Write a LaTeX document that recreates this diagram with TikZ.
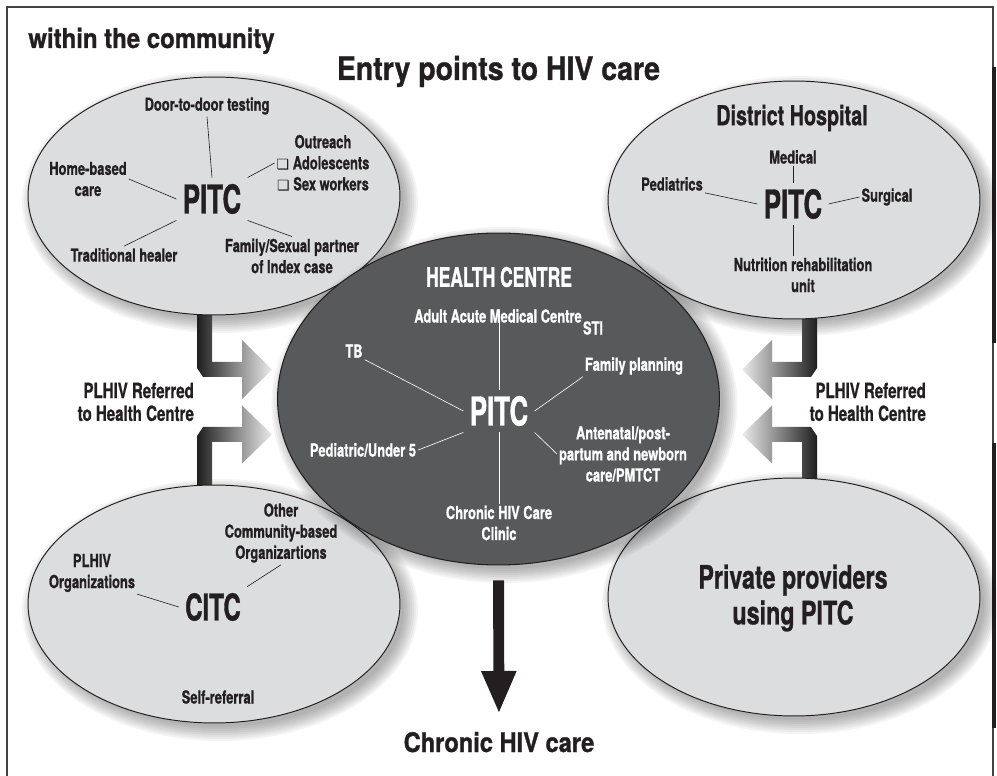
\documentclass[tikz,border=0pt]{standalone}
\usepackage{fontspec}
\setmainfont{TeX Gyre Heros}[FakeStretch=0.72, FakeBold=0.8]
\newfontfamily\headfont{TeX Gyre Heros}[FakeStretch=0.88, FakeBold=1]
\newfontfamily\capfont{TeX Gyre Heros}[FakeStretch=0.65, FakeBold=1]
\newfontfamily\boxfont{DejaVu Sans}
\usetikzlibrary{shapes.geometric,arrows.meta}
\definecolor{ink}{HTML}{231F20}
\definecolor{ovallight}{HTML}{DCDDDF}
\definecolor{ovaldark}{HTML}{58595B}
\newcommand\fsz[2]{\fontsize{#1}{#2}\selectfont\bfseries}
\newcommand\chk{{\boxfont\fontsize{8}{10}\selectfont ❑}}
% soft shadow under an oval: centre x, centre y, x radius, y radius
\newcommand\ovalshadow[4]{%
  \foreach \k in {0,...,7}
    \fill[black,opacity=.045] (#1+6,#2+6) ellipse [x radius=#3+12-2*\k, y radius=#4+12-2*\k];}
\tikzset{
  lightoval/.style={ellipse, draw=ink, line width=.55pt, fill=ovallight, inner sep=0pt,
    minimum width=7.44cm, minimum height=4.76cm},
  darkoval/.style={ellipse, draw=ink, line width=.6pt, fill=ovaldark, inner sep=0pt,
    minimum width=8.84cm, minimum height=6.64cm},
  leaf/.style={font=\fsz{10.2}{12}, text=ink, align=center, inner sep=1pt},
  wleaf/.style={leaf, text=white},
  hub/.style={font=\capfont\fsz{22.6}{24}, text=ink, inner sep=3.5pt},
  whub/.style={hub, text=white},
  heading/.style={text=ink, inner sep=0pt},
  spoke/.style={draw=ink, line width=.35pt},
  wspoke/.style={draw=white, line width=.35pt},
  referral/.style={draw=none},
  outflow/.style={draw=ink, line width=6.2pt, -{Triangle[width=18.2pt,length=24.5pt]},
    shorten <=8.5pt, shorten >=10pt},
  frame/.style={draw=ink!85, line width=1.1pt}
}

\begin{document}
\begin{tikzpicture}[x=0.02cm, y=-0.02cm]
\useasboundingbox (0,0) rectangle (997,776);
\draw[frame] (7,776) -- (7,7) -- (993,7) -- (993,776);
\draw[ink, line width=2.2pt] (994,67) -- (994,343) (994,443) -- (994,728);

\node[heading, font=\headfont\fsz{15.5}{18}, anchor=base west] (scope) at (28,48) {within the community};
\node[heading, font=\headfont\fsz{18.4}{21}, anchor=base] (title) at (498.5,80) {Entry points to HIV care};

\ovalshadow{214}{196}{186}{119}
\ovalshadow{794}{200}{186}{118}
\ovalshadow{214}{604}{186}{119}
\ovalshadow{794}{597}{186}{119}

% referral arrows into the health centre
\shade[referral, left color=black!88, right color=black!8]
  (212,300) -- (212,362) -- (242,362) -- (242,340) -- (272,369.5) -- (242,399)
  -- (242,377) -- (203,377) -- (197,368) -- (197,300) -- cycle;
\shade[referral, left color=black!88, right color=black!8]
  (212,500) -- (212,442) -- (242,442) -- (242,463.5) -- (272,434.5) -- (242,405.5)
  -- (242,427) -- (203,427) -- (197,436) -- (197,500) -- cycle;
\shade[referral, left color=black!8, right color=black!88]
  (802,300) -- (802,362) -- (772,362) -- (772,340) -- (742,369.5) -- (772,399)
  -- (772,377) -- (811,377) -- (817,368) -- (817,300) -- cycle;
\shade[referral, left color=black!8, right color=black!88]
  (802,500) -- (802,442) -- (772,442) -- (772,463.5) -- (742,434.5) -- (772,405.5)
  -- (772,427) -- (811,427) -- (817,436) -- (817,500) -- cycle;

\node[lightoval] (community) at (214,196) {};
\node[lightoval] (hospital) at (794,200) {};
\node[lightoval] (cbo) at (214,604) {};
\node[lightoval] (private) at (794,597) {};

\ovalshadow{498.5}{399}{221}{166}
\node[darkoval] (hc) at (498.5,399) {};

% community
\node[hub] (pitcA) at (212,199) {PITC};
\node[leaf] (door) at (207,106) {Door-to-door testing};
\node[leaf] (home) at (88,179) {Home-based\\care};
\node[leaf] (outreach) at (323,163) {Outreach\\\chk{} Adolescents\\\chk{} Sex workers};
\node[leaf] (healer) at (124,255) {Traditional healer};
\node[leaf] (partner) at (292,256) {Family/Sexual partner\\of Index case};
\draw[spoke] (door.south) -- (pitcA.north);
\draw[spoke] (home.east) -- (pitcA.west);
\draw[spoke] (pitcA.north east) -- (outreach.west);
\draw[spoke] (pitcA.south west) -- (healer.north);
\draw[spoke] (pitcA.south east) -- (partner.north);

% district hospital
\node[leaf, font=\fsz{15.6}{18}] (dh) at (792,118) {District Hospital};
\node[hub] (pitcB) at (793,204) {PITC};
\node[leaf] (medical) at (793,157) {Medical};
\node[leaf] (peds) at (672,184) {Pediatrics};
\node[leaf] (surgical) at (887,197) {Surgical};
\node[leaf] (nutrition) at (803,275) {Nutrition rehabilitation\\unit};
\draw[spoke] (medical.south) -- (pitcB.north);
\draw[spoke] (peds.south east) -- (pitcB.west);
\draw[spoke] (pitcB.east) -- (surgical.west);
\draw[spoke] (pitcB.south) -- (pitcB.south |- nutrition.north);

% health centre
\node[wleaf, font=\capfont\fsz{15.3}{17}] (hctitle) at (499,277) {HEALTH CENTRE};
\node[whub] (pitcC) at (499,411) {PITC};
\node[wleaf] (adult) at (498,316) {Adult Acute Medical Centre};
\node[wleaf] (sti) at (593,328) {STI};
\node[wleaf] (tb) at (354,351) {TB};
\node[wleaf] (famplan) at (634,366) {Family planning};
\node[wleaf] (ped5) at (363,450) {Pediatric/Under 5};
\node[wleaf] (antenatal) at (623,454) {Antenatal/post-\\partum and newborn\\care/PMTCT};
\node[wleaf] (clinic) at (499,523) {Chronic HIV Care\\Clinic};
\draw[wspoke] (pitcC.north) -- (pitcC.north |- adult.center);
\draw[wspoke] (tb.south east) -- (pitcC.west);
\draw[wspoke] (ped5.east) -- (pitcC.south west);
\draw[wspoke] (pitcC.east) -- (famplan.south west);
\draw[wspoke] (pitcC.south east) -- (antenatal.west);
\draw[wspoke] (pitcC.south) -- (clinic.north);

% community-based organizations
\node[hub, font=\capfont\fsz{21}{23}] (citc) at (213,607) {CITC};
\node[leaf] (other) at (281,533) {Other\\Community-based\\Organizartions};
\node[leaf] (plorg) at (92,573) {PLHIV\\Organizations};
\node[leaf] (selfref) at (218,697) {Self-referral};
\draw[spoke] (citc.north east) -- (other.south);
\draw[spoke] (plorg.south east) -- (citc.west);

% private sector
\node[leaf, font=\fsz{18.4}{20.4}] (pp) at (793,598) {Private providers\\using PITC};

\node[leaf, font=\fsz{11.9}{13}, align=right, anchor=east] (refL) at (196,402) {PLHIV Referred\\to Health Centre};
\node[leaf, font=\fsz{11.9}{13}, align=right, anchor=east] (refR) at (928,402) {PLHIV Referred\\to Health Centre};

\node[heading, font=\headfont\fsz{15.3}{18}, anchor=base] (care) at (499,752) {Chronic HIV care};
\draw[outflow] (hc.south) -- (care.north);
\end{tikzpicture}
\end{document}
